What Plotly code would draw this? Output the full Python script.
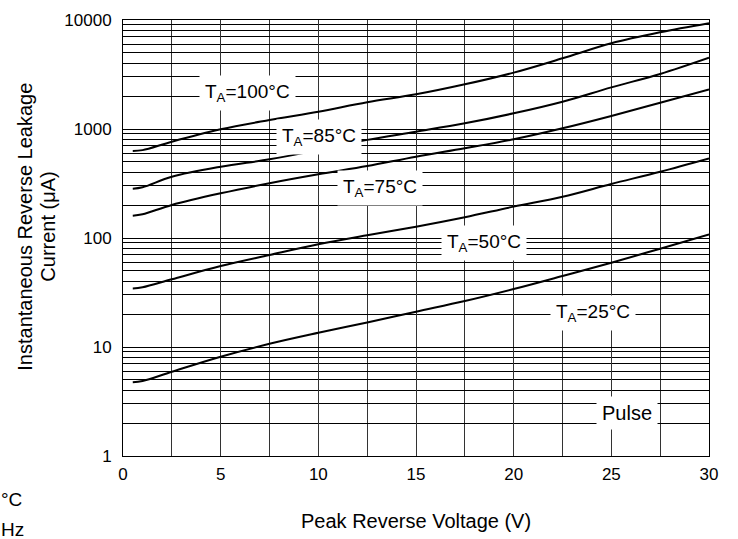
import plotly.graph_objects as go

voltage = [0.5, 1, 2.5, 5, 7.5, 10, 12.5, 15, 17.5, 20, 22.5, 25, 27.5, 30]
i_100c = [628, 640, 765, 994, 1210, 1442, 1760, 2080, 2570, 3290, 4450, 6110, 7710, 9330]
i_85c = [283, 292, 365, 451, 527, 640, 795, 944, 1127, 1393, 1780, 2410, 3200, 4510]
i_75c = [160, 165, 201, 257, 318, 384, 457, 557, 665, 804, 1014, 1316, 1742, 2311]
i_50c = [34.5, 35.3, 41.8, 55.3, 69.8, 87.5, 106, 127, 155, 194, 239, 313, 406, 538]
i_25c = [4.74, 4.87, 5.93, 8.15, 10.7, 13.5, 16.8, 21.1, 26.4, 34, 44.8, 59.3, 79.8, 108]

series_names = ["T<sub>A</sub>=100°C", "T<sub>A</sub>=85°C", "T<sub>A</sub>=75°C",
                "T<sub>A</sub>=50°C", "T<sub>A</sub>=25°C"]
x_ticks = [0, 5, 10, 15, 20, 25, 30]
y_ticks = [1, 10, 100, 1000, 10000]
y_tick_text = ["1", "10", "100", "1000", "10000"]

FONT = "Liberation Sans, Arial, sans-serif"

fig = go.Figure()
for name, vals in zip(series_names, [i_100c, i_85c, i_75c, i_50c, i_25c]):
    fig.add_trace(go.Scatter(x=voltage, y=vals, mode="lines", name=name,
                             line=dict(color="black", width=2, shape="spline")))

label_pos = [(6.39, 3.33), (10.05, 2.927), (13.14, 2.459), (18.5, 1.954), (24.07, 1.315)]
for name, (lx, ly) in zip(series_names, label_pos):
    fig.add_annotation(x=lx, y=ly, xref="x", yref="y", text=name, showarrow=False,
                       xanchor="center", yanchor="middle",
                       font=dict(size=19, color="black", family=FONT),
                       bgcolor="white", borderpad=5)
fig.add_annotation(x=25.8, y=0.397, xref="x", yref="y", text="Pulse", showarrow=False,
                   xanchor="center", yanchor="middle",
                   font=dict(size=20, color="black", family=FONT),
                   bgcolor="white", borderpad=5)

# axis titles
fig.add_annotation(x=-0.1672, y=0.526, xref="paper", yref="paper", textangle=-90,
                   xanchor="center", yanchor="middle",
                   text="Instantaneous Reverse Leakage", showarrow=False,
                   font=dict(size=20, color="black", family=FONT))
fig.add_annotation(x=-0.128, y=0.526, xref="paper", yref="paper", textangle=-90,
                   xanchor="center", yanchor="middle",
                   text="Current (μA)", showarrow=False,
                   font=dict(size=20, color="black", family=FONT))
fig.add_annotation(x=0.5, y=-0.149, xref="paper", yref="paper",
                   xanchor="center", yanchor="middle",
                   text="Peak Reverse Voltage (V)", showarrow=False,
                   font=dict(size=20, color="black", family=FONT))

# leftover text at bottom-left
fig.add_annotation(x=-0.2116, y=-0.1009, xref="paper", yref="paper", xanchor="left",
                   yanchor="middle", text="°C", showarrow=False,
                   font=dict(size=19, color="black", family=FONT))
fig.add_annotation(x=-0.2116, y=-0.1697, xref="paper", yref="paper", xanchor="left",
                   yanchor="middle", text="Hz", showarrow=False,
                   font=dict(size=19, color="black", family=FONT))

fig.update_layout(
    width=738, height=539,
    margin=dict(l=123, r=29, t=20, b=83),
    paper_bgcolor="white", plot_bgcolor="white",
    showlegend=False,
    font=dict(family=FONT, size=17, color="black"),
    xaxis=dict(range=[0, 30], tickvals=x_ticks, showgrid=True, gridcolor="#333",
               gridwidth=1, zeroline=False, showline=True, mirror=True, linecolor="black",
               linewidth=1, ticks="outside", ticklen=3, tickcolor="rgba(0,0,0,0)",
               tickfont=dict(size=17), automargin=False,
               minor=dict(dtick=2.5, showgrid=True, gridcolor="#333", gridwidth=1)),
    yaxis=dict(type="log", range=[0, 4], tickvals=y_ticks, ticktext=y_tick_text,
               showgrid=True, gridcolor="black", gridwidth=1, zeroline=False,
               showline=True, mirror=True, linecolor="black", linewidth=1,
               ticks="outside", ticklen=7, tickcolor="rgba(0,0,0,0)",
               tickfont=dict(size=17), automargin=False,
               minor=dict(dtick="D1", showgrid=True, gridcolor="black", gridwidth=1)),
)

fig.write_html("out.html", config={"displayModeBar": False},
               post_script="document.body.style.margin='0';")
